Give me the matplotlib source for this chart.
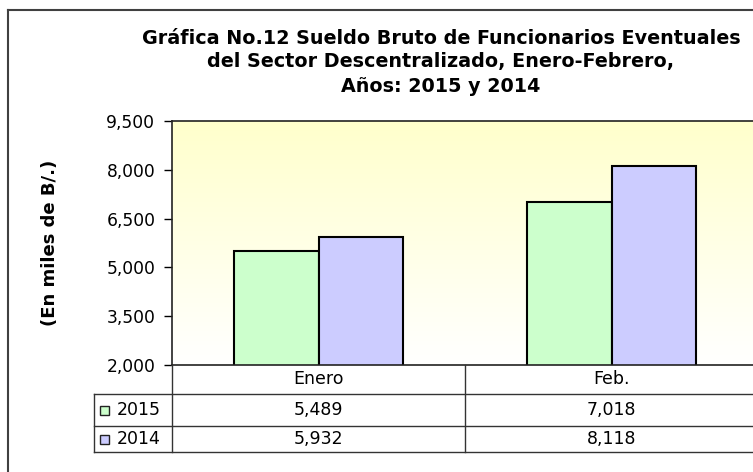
import matplotlib
matplotlib.use("Agg")
import matplotlib.pyplot as plt
import numpy as np
from matplotlib.lines import Line2D
from matplotlib.patches import Rectangle
from matplotlib.transforms import blended_transform_factory

plt.rcParams['font.family'] = ['DejaVu Sans']

categories = ["Enero", "Feb."]
series_names = ["2015", "2014"]
values_2015 = [5489, 7018]
values_2014 = [5932, 8118]
value_labels_2015 = ["5,489", "7,018"]
value_labels_2014 = ["5,932", "8,118"]
yticks = [2000, 3500, 5000, 6500, 8000, 9500]
ytick_labels = ["2,000", "3,500", "5,000", "6,500", "8,000", "9,500"]
colors = ["#CCFFCC", "#CCCCFF"]

W, H = 753, 472
fig = plt.figure(figsize=(W / 100, H / 100), dpi=100)
fig.patch.set_facecolor("white")

def fx(px):
    return px / W

def fy(py):
    return 1 - py / H

left, right, top, bottom = 172, 758, 121, 365
ax = fig.add_axes([fx(left), fy(bottom), fx(right - left), (bottom - top) / H])

# gradient background
grad = np.linspace(0, 1, 256).reshape(-1, 1)
top_c = np.array([1.0, 1.0, 0.80])
bot_c = np.array([1.0, 1.0, 1.0])
img = bot_c[None, None, :] * (1 - grad[:, :, None]) + top_c[None, None, :] * grad[:, :, None]
ax.imshow(img, extent=[0, 1, 0, 1], transform=ax.transAxes, origin="lower",
          aspect="auto", zorder=0)

x = np.arange(len(categories))
bw = 0.29
ax.bar(x - bw / 2, values_2015, bw, color=colors[0], edgecolor="black", linewidth=1.5, zorder=2)
ax.bar(x + bw / 2, values_2014, bw, color=colors[1], edgecolor="black", linewidth=1.5, zorder=2)

ax.set_xlim(-0.5, len(categories) - 0.5)
ax.set_ylim(2000, 9500)
ax.set_yticks(yticks)
ax.set_yticklabels(ytick_labels, fontsize=12.3)
ax.tick_params(axis="y", direction="out", length=6, width=1, pad=6)
ax.set_xticks([])
for s in ax.spines.values():
    s.set_linewidth(1.2)
    s.set_color("#222222")

fig.text(fx(50), fy(243), "(En miles de B/.)", rotation=90, ha="center", va="center",
         fontsize=13, fontweight="bold")

# title
title_lines = ["Gráfica No.12 Sueldo Bruto de Funcionarios Eventuales",
               "del Sector Descentralizado, Enero-Febrero,",
               "Años: 2015 y 2014"]
for t, yy in zip(title_lines, [38, 61, 86]):
    fig.text(fx(441), fy(yy), t, ha="center", va="center", fontsize=13.8, fontweight="bold")

# outer border
fig.add_artist(Line2D([fx(8), fx(8)], [fy(10), fy(480)], color="#404040", lw=1.5))
fig.add_artist(Line2D([fx(8), fx(760)], [fy(10), fy(10)], color="#404040", lw=1.5))

# data table
tc = "#333333"
row_y = [365, 394, 426, 452]
tbl_left = 94
for ry in row_y[1:]:
    fig.add_artist(Line2D([fx(tbl_left), fx(760)], [fy(ry), fy(ry)], color=tc, lw=1))
fig.add_artist(Line2D([fx(tbl_left), fx(tbl_left)], [fy(394), fy(452)], color=tc, lw=1))
fig.add_artist(Line2D([fx(left), fx(left)], [fy(365), fy(452)], color=tc, lw=1))

trans = blended_transform_factory(ax.transData, fig.transFigure)
for i in range(len(categories) - 1):
    xd = i + 0.5
    fig.add_artist(Line2D([xd, xd], [fy(365), fy(452)], color=tc, lw=1, transform=trans))

row_centers = [(row_y[i] + row_y[i + 1]) / 2 for i in range(3)]
for i, c in enumerate(categories):
    fig.text(x[i], fy(row_centers[0]), c, transform=trans, ha="center", va="center", fontsize=12.5)
    fig.text(x[i], fy(row_centers[1]), value_labels_2015[i], transform=trans, ha="center", va="center", fontsize=12.5)
    fig.text(x[i], fy(row_centers[2]), value_labels_2014[i], transform=trans, ha="center", va="center", fontsize=12.5)

for j, name in enumerate(series_names):
    cy = row_centers[j + 1]
    fig.add_artist(Rectangle((fx(100), fy(cy + 4.5)), 9 / W, 9 / H, transform=fig.transFigure,
                             facecolor=colors[j], edgecolor="#222222", lw=1))
    fig.text(fx(117), fy(cy), name, ha="left", va="center", fontsize=12.5)

fig.savefig("out.png", dpi=100)
